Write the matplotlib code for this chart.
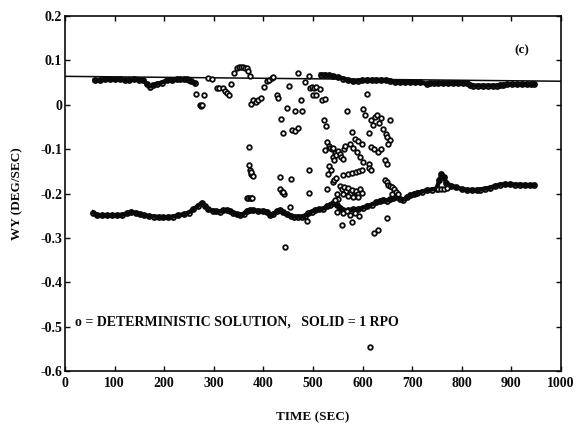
import numpy as np
import matplotlib
matplotlib.use("Agg")
import matplotlib.pyplot as plt

# ---- data ----
# "SOLID = 1 RPO" reference line
rpo_t = [0, 1000]
rpo_v = [0.064, 0.053]

# upper band of deterministic solutions (two segments)
upA_t = [60, 70, 80, 90, 100, 110, 120, 130, 140, 150, 158, 165, 171, 178, 185, 195, 205, 215, 225, 232, 240, 245, 250, 255, 262]
upA_v = [0.055, 0.056, 0.057, 0.057, 0.057, 0.057, 0.056, 0.056, 0.057, 0.056, 0.055, 0.047, 0.041, 0.044, 0.047, 0.050, 0.055, 0.056, 0.057, 0.057, 0.058, 0.057, 0.055, 0.053, 0.049]
upB_t = [516, 524, 532, 541, 551, 561, 571, 581, 590, 598, 608, 618, 628, 638, 648, 656, 665, 675, 685, 695, 705, 716, 729, 736, 743, 753, 763, 773, 783, 793, 803, 810, 816, 823, 833, 843, 853, 863, 870, 877, 884, 891, 901, 911, 921, 931, 940, 946]
upB_v = [0.068, 0.068, 0.066, 0.064, 0.062, 0.059, 0.056, 0.053, 0.054, 0.055, 0.056, 0.056, 0.056, 0.056, 0.056, 0.054, 0.052, 0.051, 0.051, 0.051, 0.051, 0.051, 0.047, 0.048, 0.049, 0.049, 0.049, 0.049, 0.049, 0.049, 0.049, 0.048, 0.045, 0.043, 0.043, 0.043, 0.043, 0.043, 0.043, 0.044, 0.045, 0.046, 0.046, 0.046, 0.046, 0.046, 0.046, 0.046]

# lower band of deterministic solutions
low_t = [57, 65, 75, 85, 95, 105, 115, 125, 134, 143, 151, 160, 170, 180, 190, 198, 208, 218, 228, 239,
         249, 259, 268, 276, 282, 288, 299, 305, 312, 319, 326, 333, 339, 346, 353, 360, 366, 372, 380, 390,
         400, 407, 413, 420, 427, 433, 440, 447, 455, 462, 470, 478, 484, 490, 497, 505, 513, 521, 528, 535,
         541, 548, 555, 561, 570, 581, 590, 600, 608, 618, 628, 636, 642, 649, 655, 662, 669, 676, 682, 689,
         696, 703, 709, 719, 729, 739, 749, 755, 759, 764, 769, 779, 789, 800, 810, 820, 830, 837, 847, 857,
         867, 877, 887, 897, 907, 917, 927, 937, 946]
low_v = [-0.243, -0.249, -0.249, -0.249, -0.249, -0.249, -0.248, -0.245, -0.241, -0.244, -0.247, -0.249, -0.251, -0.252, -0.253, -0.254, -0.253, -0.252, -0.249, -0.247,
         -0.243, -0.236, -0.228, -0.221, -0.228, -0.236, -0.239, -0.240, -0.241, -0.238, -0.237, -0.240, -0.243, -0.247, -0.249, -0.246, -0.240, -0.237, -0.238, -0.239,
         -0.239, -0.241, -0.249, -0.246, -0.240, -0.237, -0.242, -0.247, -0.250, -0.252, -0.252, -0.252, -0.250, -0.245, -0.241, -0.237, -0.236, -0.234, -0.229, -0.225,
         -0.222, -0.225, -0.233, -0.238, -0.238, -0.236, -0.236, -0.232, -0.229, -0.225, -0.220, -0.216, -0.214, -0.216, -0.213, -0.210, -0.208, -0.212, -0.214, -0.209,
         -0.204, -0.201, -0.199, -0.196, -0.193, -0.191, -0.189, -0.170, -0.157, -0.163, -0.177, -0.183, -0.186, -0.190, -0.192, -0.192, -0.192, -0.191, -0.189, -0.187,
         -0.183, -0.180, -0.179, -0.179, -0.180, -0.180, -0.181, -0.181, -0.181]

# scattered deterministic solutions
sc_t = [265, 272, 274, 276, 281, 289, 296, 306, 311, 318, 323, 327, 331, 335, 341, 346, 350, 354, 358, 362, 366, 368, 372,
        370, 370, 372, 374, 377, 380, 376, 366, 369, 372, 375, 378, 375, 380, 385, 390, 395,
        401, 407, 412, 417, 420, 427, 430, 435, 440, 433, 433, 437, 441, 439,
        447, 452, 455, 454, 444, 458, 464, 470, 464, 470, 476, 477,
        484, 491, 493, 497, 502, 507, 499, 506, 514, 491, 491, 487,
        519, 524, 523, 526, 525, 529, 531, 529, 533, 532, 535, 538, 541, 544, 540, 543, 547,
        537, 540, 543, 546, 551, 554, 557, 560, 562, 565,
        548, 558, 578, 592, 649, 623, 632, 615,
        568, 578, 585, 591, 598, 574, 581, 588, 594, 601, 612,
        561, 570, 578, 586, 592, 598, 601, 605, 608, 612,
        617, 621, 625, 629, 633, 637, 641, 616, 622, 632, 637,
        647, 650, 655, 652, 655, 646, 649, 612, 616,
        555, 559, 563, 567, 571, 575, 579, 583, 587, 591, 595, 599, 580, 570, 560, 590,
        551, 548, 545,
        646, 649, 652, 656, 659, 663, 667, 671, 660,
        752, 758, 764, 770, 560, 568, 575, 585]
sc_v = [0.025, 0.000, -0.002, 0.000, 0.021, 0.060, 0.057, 0.038, 0.038, 0.037, 0.031, 0.026, 0.021, 0.047, 0.071, 0.082, 0.084, 0.084, 0.084, 0.083, 0.082, 0.077, 0.064,
        -0.095, -0.135, -0.148, -0.156, -0.158, -0.161, -0.152, -0.210, -0.210, -0.210, -0.210, -0.210, 0.002, 0.010, 0.006, 0.010, 0.016,
        0.041, 0.053, 0.055, 0.061, 0.062, 0.023, 0.016, -0.032, -0.063, -0.163, -0.189, -0.197, -0.200, -0.196,
        -0.007, 0.043, -0.167, -0.231, -0.321, -0.058, -0.059, -0.052, -0.014, 0.071, 0.010, -0.014,
        0.051, 0.065, 0.038, 0.040, 0.038, 0.040, 0.023, 0.023, 0.036, -0.148, -0.199, -0.261,
        0.010, 0.013, -0.035, -0.047, -0.103, -0.084, -0.156, -0.189, -0.137, -0.092, -0.097, -0.100, -0.098, -0.108, -0.118, -0.125, -0.113,
        -0.148, -0.174, -0.170, -0.165, -0.105, -0.110, -0.117, -0.123, -0.100, -0.093,
        -0.242, -0.272, -0.264, -0.250, -0.255, -0.290, -0.283, -0.545,
        -0.013, -0.062, -0.077, -0.082, -0.088, -0.088, -0.098, -0.107, -0.118, -0.130, -0.133,
        -0.159, -0.156, -0.153, -0.151, -0.150, -0.148, -0.009, -0.024, 0.025, -0.064,
        -0.035, -0.045, -0.028, -0.022, -0.040, -0.030, -0.055, -0.095, -0.100, -0.107, -0.100,
        -0.065, -0.072, -0.080, -0.088, -0.034, -0.125, -0.133, -0.143, -0.147,
        -0.182, -0.190, -0.185, -0.195, -0.188, -0.200, -0.192, -0.205, -0.195, -0.200, -0.190, -0.198, -0.208, -0.205, -0.200, -0.208,
        -0.212, -0.200, -0.215,
        -0.170, -0.175, -0.180, -0.183, -0.186, -0.190, -0.196, -0.200, -0.200,
        -0.190, -0.190, -0.189, -0.188, -0.245, -0.240, -0.248, -0.245]

x_ticks = [0, 100, 200, 300, 400, 500, 600, 700, 800, 900, 1000]
y_ticks = [0.2, 0.1, 0, -0.1, -0.2, -0.3, -0.4, -0.5, -0.6]
y_tick_labels = ["0.2", "0.1", "0", "-0.1", "-0.2", "-0.3", "-0.4", "-0.5", "-0.6"]

# ---- figure ----
plt.rcParams['font.family'] = ['Liberation Serif', 'DejaVu Serif']
fig = plt.figure(figsize=(5.77, 4.29), dpi=100)
ax = fig.add_axes([65 / 577, 1 - 371 / 429, 496 / 577, 355 / 429])

ink = '#0a0a0a'
ax.plot(rpo_t, rpo_v, color=ink, lw=1.1, zorder=2)

band_kw = dict(color=ink, lw=3.2, marker='o', ms=3.6, mew=1.3, mfc='none', mec=ink, zorder=3)
ax.plot(upA_t, upA_v, **band_kw)
ax.plot(upB_t, upB_v, **band_kw)
ax.plot(low_t, low_v, **band_kw)
ax.plot(sc_t, sc_v, linestyle='none', marker='o', ms=3.3, mew=1.3, mfc='white', mec=ink, zorder=4)

ax.set_xlim(0, 1000)
ax.set_ylim(-0.6, 0.2)
ax.set_xticks(x_ticks)
ax.set_xticklabels([str(v) for v in x_ticks])
ax.set_yticks(y_ticks)
ax.set_yticklabels(y_tick_labels)
ax.tick_params(direction='in', length=3.5, width=1.0, top=True, right=True,
               labelsize=10, colors=ink, pad=4)
ax.tick_params(axis='y', pad=2)
for lab in ax.get_xticklabels() + ax.get_yticklabels():
    lab.set_fontweight('bold')
for s in ax.spines.values():
    s.set_linewidth(1.2)
    s.set_color(ink)

ax.set_xlabel("TIME (SEC)", fontsize=9.5, fontweight='bold', color=ink, labelpad=16)
ax.set_ylabel("WY (DEG/SEC)", fontsize=9.5, fontweight='bold', color=ink, labelpad=12)

ax.text(921, 0.123, "(c)", fontsize=9.5, fontweight='bold', ha='center', va='center', color=ink)
ax.text(20, -0.49, "o = DETERMINISTIC SOLUTION,   SOLID = 1 RPO", fontsize=10,
        fontweight='bold', ha='left', va='center', color=ink)

fig.savefig("out.png", dpi=100, facecolor='white')
